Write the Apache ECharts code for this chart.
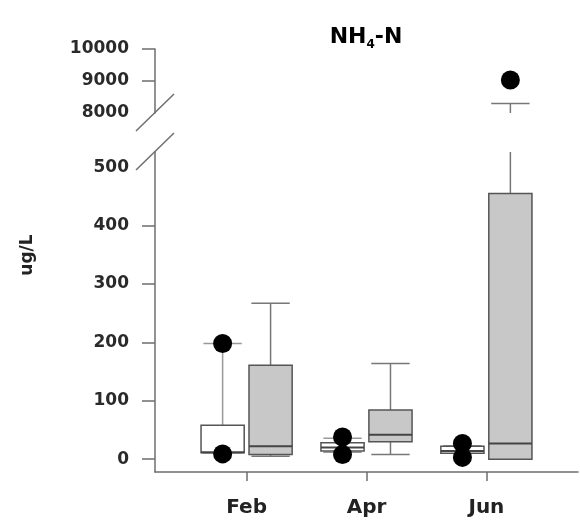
<!DOCTYPE html>
<html>
<head>
<meta charset="utf-8">
<script src="https://cdn.jsdelivr.net/npm/echarts@6/dist/echarts.min.js"></script>
<style>
  html, body { margin: 0; padding: 0; background: #fff; }
  #chart { width: 580px; height: 524px; }
</style>
</head>
<body>
<div id="chart"></div>
<script>
  const categories = ['Feb', 'Apr', 'Jun'];

  // open (white) boxes
  const whiteLow = [11, 12, 10];
  const whiteQ1 = [11, 14, 10];
  const whiteMedian = [12, 20, 14];
  const whiteQ3 = [58, 28, 22];
  const whiteHigh = [198, 36, 23];
  const whiteOutliers = [[198, 9], [38, 8], [27, 3]];

  // grey boxes
  const greyLow = [5, 8, 0];
  const greyQ1 = [8, 30, 0];
  const greyMedian = [22, 42, 27];
  const greyQ3 = [161, 84, 455];
  const greyHigh = [267, 164, 8300];
  const greyOutliers = [[], [], [9030]];

  const lowerLabels = [0, 100, 200, 300, 400, 500];
  const lowerTicks = [0, 100, 200, 300, 400];
  const upperLabels = [8000, 9000, 10000];
  const upperTicks = [9000, 10000];

  const xMin = 0.236;
  const xMax = 3.764;
  const lowerMin = -22;
  const lowerMax = 526;
  const axisColor = '#6e6e6e';
  const font = 'DejaVu Sans';

  const buildBoxes = (low, q1, med, q3, high, shift) =>
    categories.map((c, i) => [i + 1 + shift, low[i], q1[i], med[i], q3[i], high[i]]);

  const buildOutliers = (outs, shift) => {
    const pts = [];
    outs.forEach((list, i) => list.forEach((v) => pts.push([i + 1 + shift, v])));
    return pts;
  };

  const whiteBoxes = buildBoxes(whiteLow, whiteQ1, whiteMedian, whiteQ3, whiteHigh, -0.2);
  const greyBoxes = buildBoxes(greyLow, greyQ1, greyMedian, greyQ3, greyHigh, 0.2);
  const outlierPts = buildOutliers(whiteOutliers, -0.2).concat(buildOutliers(greyOutliers, 0.2));

  const boxRender = (fill, whiskerColor) => (params, api) => {
    const x = api.value(0);
    const pLow = api.coord([x, api.value(1)]);
    const pQ1 = api.coord([x, api.value(2)]);
    const pMed = api.coord([x, api.value(3)]);
    const pQ3 = api.coord([x, api.value(4)]);
    const pHigh = api.coord([x, api.value(5)]);
    const boxW = api.size([0.36, 0])[0];
    const capW = api.size([0.32, 0])[0];
    const cx = pMed[0];
    const whisker = { stroke: whiskerColor, lineWidth: 1.5 };
    const line = (x1, y1, x2, y2, style) => ({
      type: 'line',
      shape: { x1, y1, x2, y2 },
      style,
    });
    return {
      type: 'group',
      children: [
        line(cx, pQ3[1], cx, pHigh[1], whisker),
        line(cx, pQ1[1], cx, pLow[1], whisker),
        line(cx - capW / 2, pHigh[1], cx + capW / 2, pHigh[1], whisker),
        line(cx - capW / 2, pLow[1], cx + capW / 2, pLow[1], whisker),
        {
          type: 'rect',
          shape: { x: cx - boxW / 2, y: pQ3[1], width: boxW, height: pQ1[1] - pQ3[1] },
          style: { fill, stroke: '#555', lineWidth: 1.5 },
        },
        line(cx - boxW / 2, pMed[1], cx + boxW / 2, pMed[1], { stroke: '#444', lineWidth: 2 }),
      ],
    };
  };

  const boxSeries = (gridIdx) => [
    {
      type: 'custom',
      xAxisIndex: gridIdx,
      yAxisIndex: gridIdx,
      clip: true,
      renderItem: boxRender('#ffffff', '#999'),
      data: whiteBoxes,
      z: 2,
    },
    {
      type: 'custom',
      xAxisIndex: gridIdx,
      yAxisIndex: gridIdx,
      clip: true,
      renderItem: boxRender('#c8c8c8', '#777'),
      data: greyBoxes,
      z: 2,
    },
    {
      type: 'scatter',
      xAxisIndex: gridIdx,
      yAxisIndex: gridIdx,
      clip: true,
      symbolSize: 19,
      itemStyle: { color: '#000', opacity: 1 },
      data: outlierPts,
      z: 3,
    },
  ];

  const tickLabel = {
    fontFamily: font,
    fontWeight: 'bold',
    fontSize: 17,
    color: '#2a2a2a',
    formatter: (v) => String(v),
  };

  const chart = echarts.init(document.getElementById('chart'));

  const option = {
    backgroundColor: '#fff',
    animation: false,
    grid: [
      { left: 155, right: 2, top: 49, height: 64 },
      { left: 155, right: 2, top: 152, bottom: 52 },
    ],
    xAxis: [
      { type: 'value', gridIndex: 0, min: xMin, max: xMax, show: false },
      {
        type: 'value',
        gridIndex: 1,
        min: xMin,
        max: xMax,
        splitLine: { show: false },
        axisLine: { onZero: false, lineStyle: { color: axisColor, width: 1.5 } },
        axisTick: { customValues: [1, 2, 3], length: 9, lineStyle: { color: axisColor, width: 1.5 } },
        axisLabel: {
          customValues: [1, 2, 3],
          margin: 26,
          formatter: (v) => categories[Math.round(v) - 1],
          fontFamily: font,
          fontWeight: 'bold',
          fontSize: 20,
          color: '#222',
        },
      },
    ],
    yAxis: [
      {
        type: 'value',
        gridIndex: 0,
        min: 8000,
        max: 10000,
        splitLine: { show: false },
        axisLine: { show: true, onZero: false, lineStyle: { color: axisColor, width: 1.5 } },
        axisTick: { show: true, customValues: upperTicks, length: 13, lineStyle: { color: axisColor, width: 1.5 } },
        axisLabel: { customValues: upperLabels, margin: 26, ...tickLabel },
      },
      {
        type: 'value',
        gridIndex: 1,
        min: lowerMin,
        max: lowerMax,
        splitLine: { show: false },
        axisLine: { show: true, onZero: false, lineStyle: { color: axisColor, width: 1.5 } },
        axisTick: { show: true, customValues: lowerTicks, length: 13, lineStyle: { color: axisColor, width: 1.5 } },
        axisLabel: { customValues: lowerLabels, margin: 26, ...tickLabel },
      },
    ],
    series: [...boxSeries(0), ...boxSeries(1)],
  };

  chart.setOption(option);

  // axis break slashes and texts
  const upBreak = chart.convertToPixel({ gridIndex: 0 }, [xMin, 8000]);
  const lowBreak = chart.convertToPixel({ gridIndex: 1 }, [xMin, lowerMax]);
  const slash = (p) => ({
    type: 'line',
    shape: { x1: p[0] - 19, y1: p[1] + 18, x2: p[0] + 19, y2: p[1] - 19 },
    style: { stroke: axisColor, lineWidth: 1.5 },
    z: 10,
  });

  chart.setOption({
    graphic: [
      slash(upBreak),
      slash(lowBreak),
      {
        type: 'text',
        x: 366,
        y: 37,
        style: {
          text: '{a|NH}{s|4}{a|-N}',
          align: 'center',
          verticalAlign: 'middle',
          rich: {
            a: { fontFamily: font, fontWeight: 'bold', fontSize: 22, lineHeight: 28, color: '#222', verticalAlign: 'middle' },
            s: { fontFamily: font, fontWeight: 'bold', fontSize: 12, lineHeight: 28, color: '#222', verticalAlign: 'bottom' },
          },
        },
      },
      {
        type: 'text',
        x: 28,
        y: 255,
        rotation: Math.PI / 2,
        style: {
          text: 'ug/L',
          align: 'center',
          verticalAlign: 'middle',
          fontFamily: font,
          fontWeight: 'bold',
          fontSize: 17,
          fill: '#222',
        },
      },
    ],
  });

  window.addEventListener('resize', () => chart.resize());
</script>
</body>
</html>
